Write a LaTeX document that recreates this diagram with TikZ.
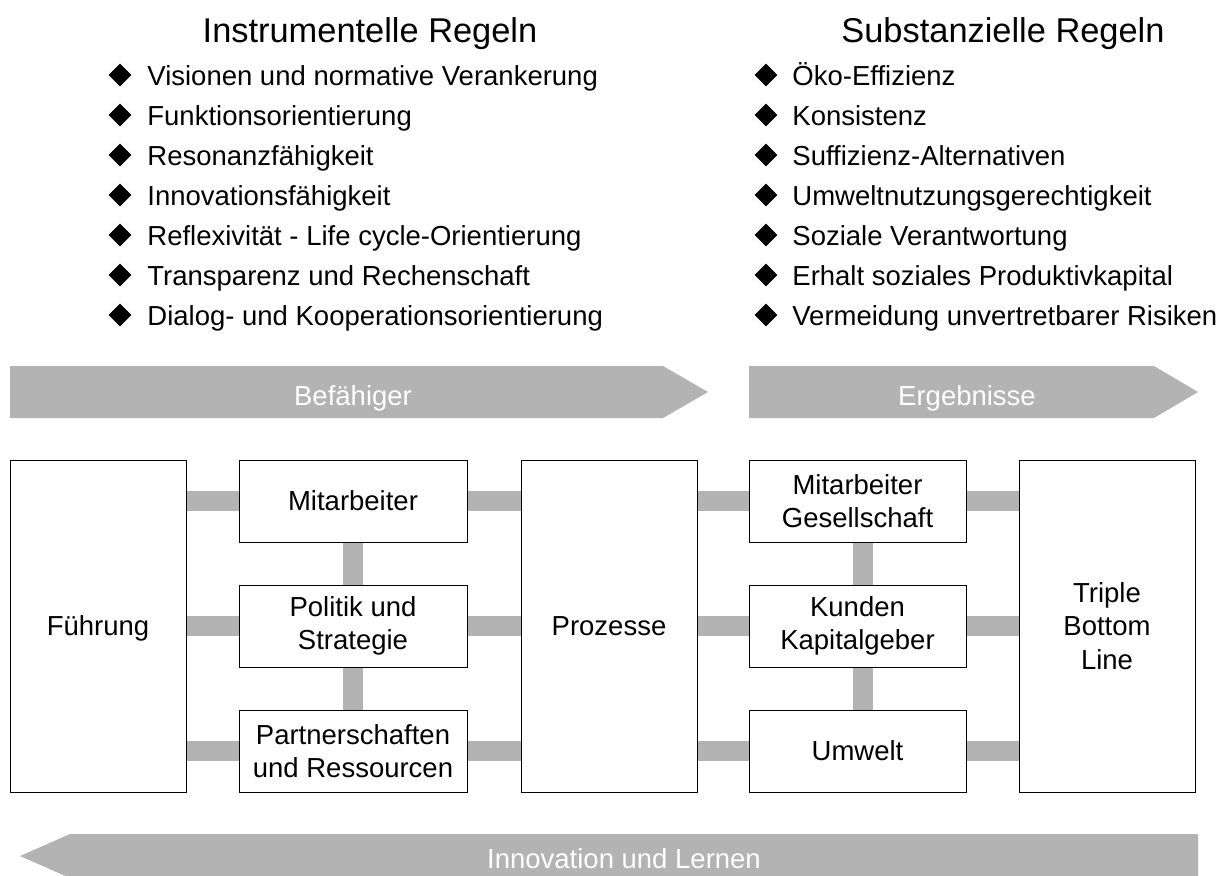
\documentclass[tikz,border=0pt]{standalone}
\usepackage{fontspec}
\setmainfont{Liberation Sans}
\usetikzlibrary{shapes.geometric, calc, positioning}
\definecolor{bargray}{RGB}{179,179,179}

\begin{document}
\begin{tikzpicture}[x=0.5pt, y=-0.5pt]
        \tikzstyle{box}=[draw, fill=white, line width=0.5pt, align=center, inner sep=0pt, font=\fontsize{13.75}{16.75}\selectfont]
        \tikzstyle{tallbox}=[box, minimum width=88pt, minimum height=166pt]
        \tikzstyle{midbox}=[box, minimum width=114pt, minimum height=41pt]
        \tikzstyle{resbox}=[box, minimum width=108.5pt, minimum height=41pt]
        \tikzstyle{bar}=[bargray, line width=10pt]
        \tikzstyle{bullet}=[diamond, fill, inner sep=0pt, minimum width=11.5pt, minimum height=11.5pt]
        \tikzstyle{item}=[anchor=base west, inner sep=0pt, font=\fontsize{13.75}{16.5}\selectfont]
        \tikzstyle{heading}=[anchor=base, inner sep=0pt, font=\fontsize{17.2}{20}\selectfont]
        \tikzstyle{flow}=[fill=bargray]
        \tikzstyle{flowlabel}=[anchor=base, inner sep=0pt, text=white, font=\fontsize{13.75}{16.5}\selectfont]

        \useasboundingbox (0,0) rectangle (1224,875);

        % Rule lists
        \node[heading] (instr) at (370,42) {Instrumentelle Regeln};
        \foreach \txt [count=\i] in {Visionen und normative Verankerung, Funktionsorientierung,
            Resonanzfähigkeit, Innovationsfähigkeit, Reflexivität - Life cycle-Orientierung,
            Transparenz und Rechenschaft, Dialog- und Kooperationsorientierung}{
            \node[bullet] (ib\i) at (120,{35+40*\i}) {};
            \node[item] (it\i) at (147,{45+40*\i}) {\txt};
        }
        \node[heading] (subst) at (1003,42) {Substanzielle Regeln};
        \foreach \txt [count=\i] in {Öko-Effizienz, Konsistenz, Suffizienz-Alternativen,
            Umweltnutzungsgerechtigkeit, Soziale Verantwortung,
            Erhalt soziales Produktivkapital, Vermeidung unvertretbarer Risiken}{
            \node[bullet] (sb\i) at (766,{35+40*\i}) {};
            \node[item] (st\i) at (792,{45+40*\i}) {\txt};
        }

        % Flow arrows
        \fill[flow] (10,366) -- (663,366) -- (708,392) -- (663,418) -- (10,418) -- cycle;
        \node[flowlabel] (befaehiger) at (353,405) {Befähiger};
        \fill[flow] (749,366) -- (1154,366) -- (1198,392) -- (1154,418) -- (749,418) -- cycle;
        \node[flowlabel] (ergebnisse) at (967,405) {Ergebnisse};
        \fill[flow] (1198,834) -- (70,834) -- (20,856) -- (70,878) -- (1198,878) -- cycle;
        \node[flowlabel] (lernen) at (624,868) {Innovation und Lernen};

        % Model boxes
        \node[tallbox, text depth=0pt] (fuehrung) at (98,626) {Führung};
        \node[midbox] (mitarb) at (353,501) {Mitarbeiter};
        \node[midbox] (politik) at (353,626) {Politik und\\Strategie};
        \node[midbox] (partner) at (353,751) {Partnerschaften\\und Ressourcen};
        \node[tallbox] (prozesse) at (609,626) {Prozesse};
        \node[resbox] (gesell) at (857.5,501) {Mitarbeiter\\Gesellschaft};
        \node[resbox] (kunden) at (857.5,626) {Kunden\\Kapitalgeber};
        \node[resbox] (umwelt) at (857.5,751) {Umwelt};
        \node[tallbox] (triple) at (1107,626) {Triple\\Bottom\\Line};

        % Connecting bars
        \foreach \m in {mitarb,politik,partner}{
            \draw[bar] (fuehrung.east |- \m) -- (\m.west);
            \draw[bar] (\m.east) -- (prozesse.west |- \m);
        }
        \foreach \m in {gesell,kunden,umwelt}{
            \draw[bar] (prozesse.east |- \m) -- (\m.west);
            \draw[bar] (\m.east) -- (triple.west |- \m);
        }
        \draw[bar] (mitarb.south) -- (politik.north);
        \draw[bar] (politik.south) -- (partner.north);
        \draw[bar] ([xshift=2.75pt]gesell.south) -- ([xshift=2.75pt]kunden.north);
        \draw[bar] ([xshift=2.75pt]kunden.south) -- ([xshift=2.75pt]umwelt.north);
\end{tikzpicture}
\end{document}
